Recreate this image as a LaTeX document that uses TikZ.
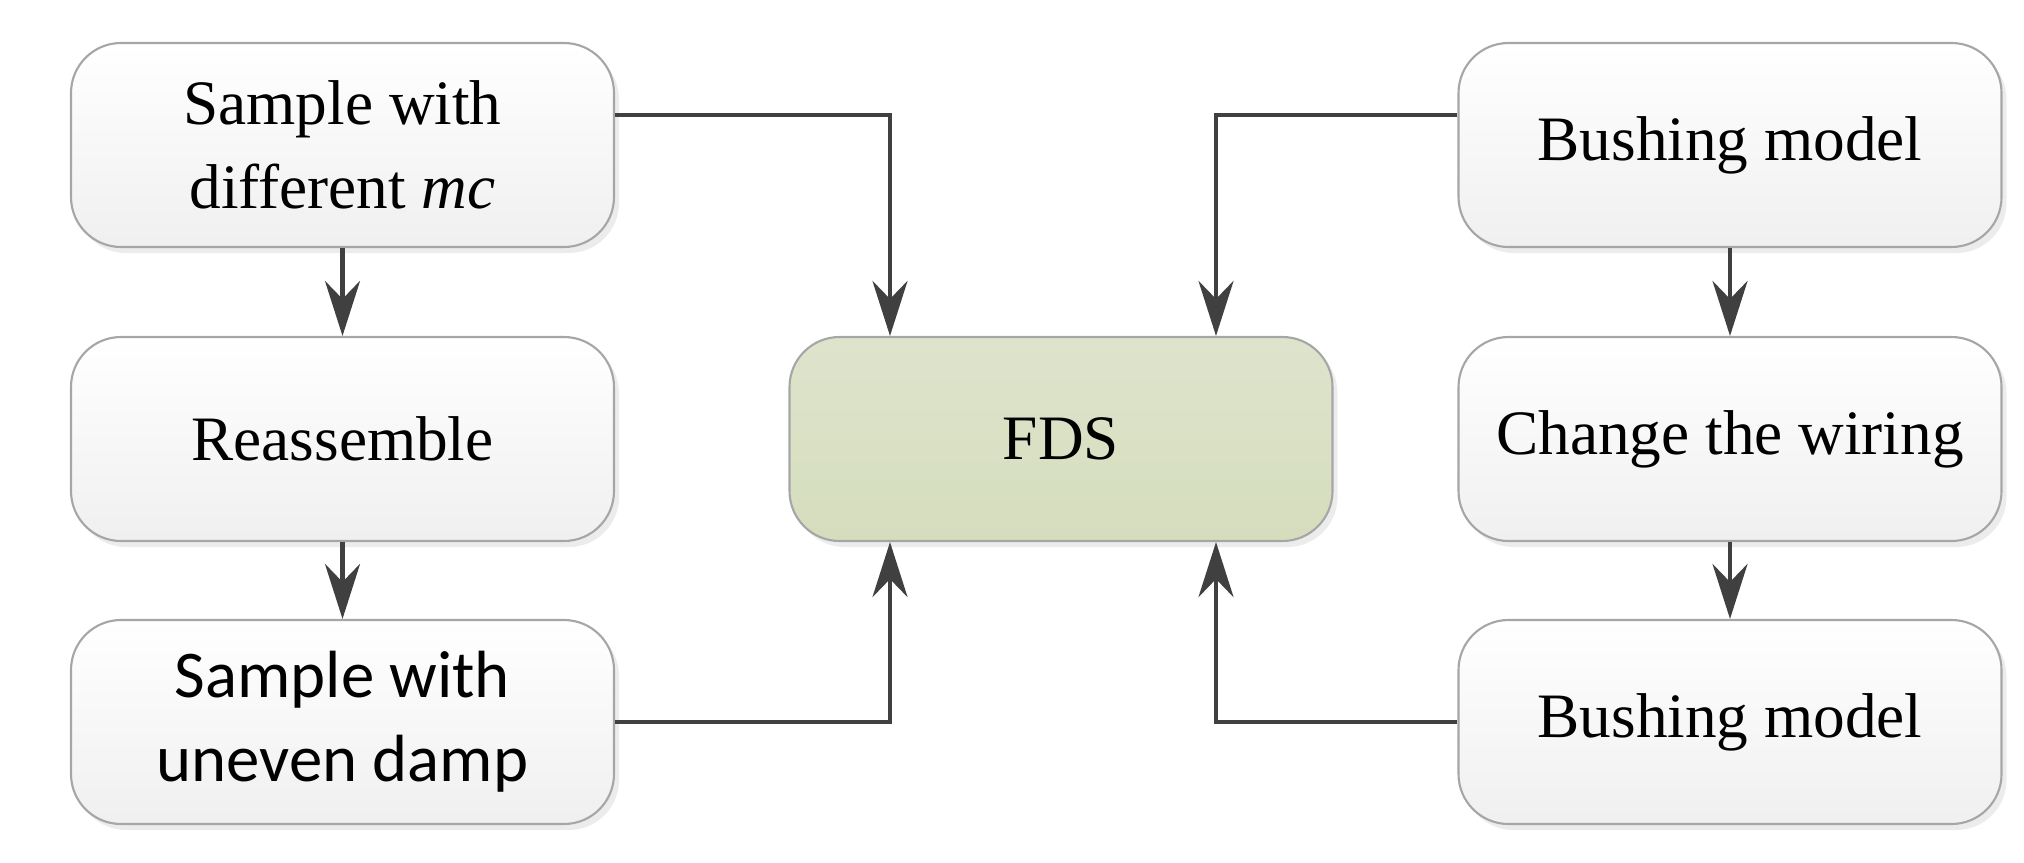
\documentclass[tikz,border=0pt]{standalone}
\usepackage{fontspec}
\setmainfont{Liberation Serif}
\newfontfamily\calib{Carlito}
\usetikzlibrary{arrows.meta,shadows}
\definecolor{bord}{HTML}{A6A6A6}
\definecolor{arr}{HTML}{404040}
\tikzset{
 box/.style={draw=bord, line width=0.6pt, rounded corners=0.5cm, minimum width=5.43cm, minimum height=2.04cm,
   top color=white, bottom color=black!6, align=center, font=\fontsize{18}{24}\selectfont,
   drop shadow={shadow xshift=0.5mm, shadow yshift=-0.6mm, fill=black!12, opacity=0.6}},
 fds/.style={box, top color={rgb,255:red,222;green,228;blue,204}, bottom color={rgb,255:red,213;green,221;blue,189}},
 con/.style={draw=arr, line width=1.3pt, -{Stealth[length=5.5mm,width=3.5mm,inset=1.8mm]}}
}
\begin{document}
\begin{tikzpicture}
\useasboundingbox (0,0) rectangle (20.24,8.62);
\node[box] (a1) at (3.425,7.17) {Sample with\\different \textit{mc}};
\node[box] (a2) at (3.425,4.23) {Reassemble};
\node[box, font=\calib\fontsize{19}{24}\selectfont] (a3) at (3.425,1.40) {Sample with\\uneven damp};
\node[fds] (f) at (10.61,4.23) {FDS};
\node[box] (b1) at (17.30,7.17) {Bushing model};
\node[box] (b2) at (17.30,4.23) {Change the wiring};
\node[box] (b3) at (17.30,1.40) {Bushing model};
\draw[con] (a1) -- (a2);
\draw[con] (a2) -- (a3);
\draw[con] (b1) -- (b2);
\draw[con] (b2) -- (b3);
\draw[con] ([yshift=0.3cm]a1.east) -| ([xshift=-1.71cm]f.north);
\draw[con] (a3.east) -| ([xshift=-1.71cm]f.south);
\draw[con] ([yshift=0.3cm]b1.west) -| ([xshift=1.55cm]f.north);
\draw[con] (b3.west) -| ([xshift=1.55cm]f.south);
\end{tikzpicture}
\end{document}
